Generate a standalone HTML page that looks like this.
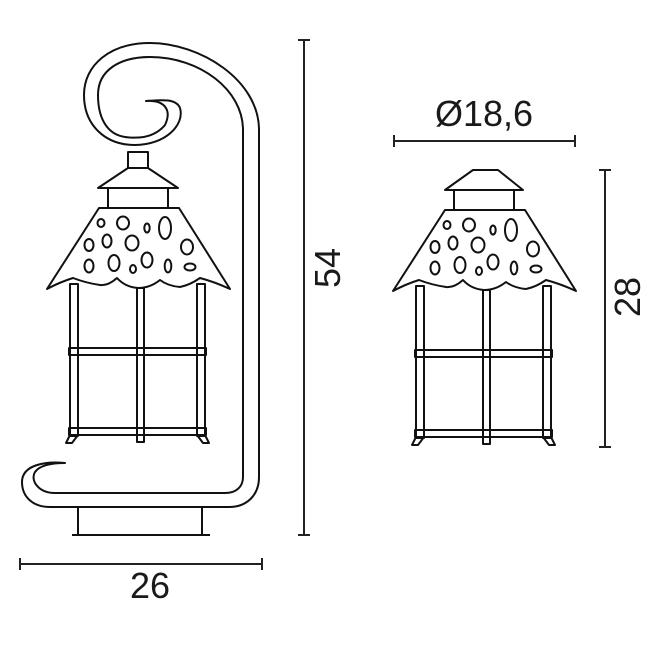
<!DOCTYPE html>
<html><head><meta charset="utf-8"><style>
html,body{margin:0;padding:0;background:#fff;}
svg{display:block;}
text{font-family:"Liberation Sans",sans-serif;fill:#1a1a1a;}
</style></head><body>
<svg width="655" height="654" viewBox="0 0 655 654" xmlns="http://www.w3.org/2000/svg">
<defs>
<g id="lan" fill="none" stroke="#111" stroke-width="2" stroke-linejoin="round">
  <!-- collar -->
  <rect x="108" y="188" width="60" height="20"/>
  <!-- posts -->
  <rect x="70" y="284" width="8" height="152"/>
  <rect x="137" y="288" width="7" height="154"/>
  <rect x="197" y="284" width="8" height="152"/>
  <!-- bars -->
  <rect x="69" y="348" width="137" height="7" fill="#fff"/>
  <rect x="69" y="428" width="137" height="7" fill="#fff"/>
  <line x1="70" y1="348" x2="70" y2="355"/><line x1="78" y1="348" x2="78" y2="355"/>
  <line x1="137" y1="348" x2="137" y2="355"/><line x1="144" y1="348" x2="144" y2="355"/>
  <line x1="197" y1="348" x2="197" y2="355"/><line x1="205" y1="348" x2="205" y2="355"/>
  <line x1="70" y1="428" x2="70" y2="435"/><line x1="78" y1="428" x2="78" y2="435"/>
  <line x1="137" y1="428" x2="137" y2="442"/><line x1="144" y1="428" x2="144" y2="442"/>
  <line x1="197" y1="428" x2="197" y2="435"/><line x1="205" y1="428" x2="205" y2="435"/>
  <line x1="137" y1="442" x2="144" y2="442"/>
  <!-- feet -->
  <path d="M70,435 L66,443 L72,443 L78,435"/>
  <path d="M197,435 L203,443 L209,443 L205,435"/>
  <!-- shade -->
  <path d="M99,208 L179,208 L230,289 Q215,282 200,278 Q190,285 180,287 Q168,286 160,280 Q150,288 138,288 Q125,287 117,278 Q108,286 100,285 Q86,283 73,278 Q60,282 47,289 Z" fill="#fff"/>
  <ellipse cx="101" cy="223" rx="3.5" ry="4"/>
  <ellipse cx="123" cy="223" rx="6" ry="6.5"/>
  <ellipse cx="147" cy="228" rx="2.7" ry="4.5"/>
  <ellipse cx="165" cy="228" rx="6" ry="11"/>
  <ellipse cx="89" cy="245" rx="4.5" ry="6"/>
  <ellipse cx="107" cy="241" rx="4.5" ry="6.5"/>
  <ellipse cx="132" cy="243" rx="6.5" ry="7.5"/>
  <ellipse cx="187" cy="247" rx="6" ry="7.5"/>
  <ellipse cx="89" cy="266" rx="4.5" ry="6.5"/>
  <ellipse cx="114" cy="263" rx="5.5" ry="8"/>
  <ellipse cx="133" cy="269" rx="3" ry="4"/>
  <ellipse cx="147" cy="260" rx="5.5" ry="7.5"/>
  <ellipse cx="168" cy="266" rx="3.3" ry="6.5"/>
  <ellipse cx="190" cy="267" rx="5.5" ry="3.5"/>
</g>
</defs>

<!-- LEFT: pole / hook -->
<g fill="none" stroke="#111" stroke-width="2" stroke-linejoin="round">
  <path d="M259,130 C259,80 200,43 150,43 C110,43 84,65 84,95 C84,125 105,145 135,145 C165,145 185,125 180,108 C176,98 160,100 146,101 C165,100 172,110 165,125 C155,137 140,139 125,137 C105,134 98,115 98,95 C98,70 120,57 150,57 C200,57 243,90 243,130 L243,477 C243,487 236,493 225,493 L55,493 C38,493 30,480 35,472 C40,465 52,463 65,463 C45,461 22,465 22,482 C22,497 33,507 50,507 L229,507 C247,507 259,495 259,477 Z"/>
  <!-- stem and cap -->
  <rect x="128" y="152" width="20" height="16"/>
  <path d="M128,168 L98,188 L178,188 L148,168"/>
  <!-- base -->
  <path d="M78,507 L78,535 M202,507 L202,535 M72,535 L210,535"/>
</g>
<use href="#lan"/>

<!-- RIGHT lantern -->
<g transform="translate(346,2)">
  <use href="#lan"/>
</g>
<g fill="none" stroke="#111" stroke-width="2" stroke-linejoin="round">
  <path d="M473,170 L498,170 L523,190 L445,190 Z" fill="#fff"/>
</g>

<!-- dimensions -->
<g stroke="#222" stroke-width="2">
  <line x1="20" y1="564" x2="262" y2="564"/>
  <line x1="20" y1="558" x2="20" y2="570"/><line x1="262" y1="558" x2="262" y2="570"/>
  <line x1="304" y1="40" x2="304" y2="535"/>
  <line x1="298" y1="40" x2="310" y2="40"/><line x1="298" y1="535" x2="310" y2="535"/>
  <line x1="394" y1="141" x2="575" y2="141"/>
  <line x1="394" y1="135" x2="394" y2="147"/><line x1="575" y1="135" x2="575" y2="147"/>
  <line x1="605" y1="170" x2="605" y2="447"/>
  <line x1="599" y1="170" x2="611" y2="170"/><line x1="599" y1="447" x2="611" y2="447"/>
</g>
<text x="150" y="598" font-size="36" text-anchor="middle">26</text>
<text x="484" y="126" font-size="36" text-anchor="middle">Ø18,6</text>
<text transform="translate(340,268) rotate(-90)" font-size="36" text-anchor="middle">54</text>
<text transform="translate(640,297) rotate(-90)" font-size="36" text-anchor="middle">28</text>
</svg>
</body></html>
